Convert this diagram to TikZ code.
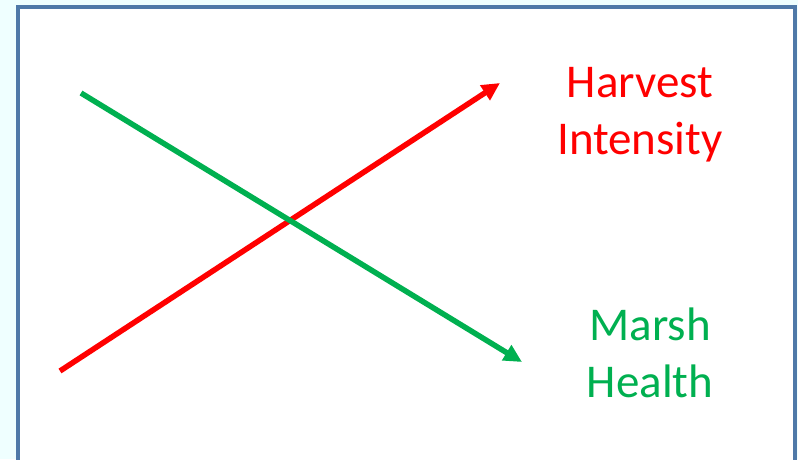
\documentclass[tikz,border=0pt]{standalone}
\usepackage{fontspec}
\setmainfont{Carlito}
\usetikzlibrary{arrows.meta}
\definecolor{frameblue}{RGB}{79,121,168}
\definecolor{paleback}{RGB}{239,255,255}
\definecolor{marshgreen}{RGB}{0,176,80}
\begin{document}
\begin{tikzpicture}[x=1pt,y=-1pt,
    trend/.style={line width=5.5pt,-{Triangle[length=18pt,width=17pt]}},
    lbl/.style={align=center,inner sep=0pt,anchor=base,
        font=\fontsize{47}{57}\selectfont}]
    \fill[paleback] (0,0) rectangle (798,459);
    \useasboundingbox (0,0) rectangle (798,459);
    \filldraw[fill=white,draw=frameblue,line width=3.5pt] (18,7) rectangle (795,475);
    % line ends
    \coordinate (hlow) at (60,371);
    \coordinate (hhigh) at (500,83);
    \coordinate (mhigh) at (81,93);
    \coordinate (mlow) at (522,362);
    \draw[trend, red] (hlow) -- (hhigh);
    \draw[trend, marshgreen] (mhigh) -- (mlow);
    \node[lbl, text=red] (harvest) at (640,154) {Harvest\\Intensity};
    \node[lbl, text=marshgreen] (marsh) at (650,397) {Marsh\\Health};
\end{tikzpicture}
\end{document}
